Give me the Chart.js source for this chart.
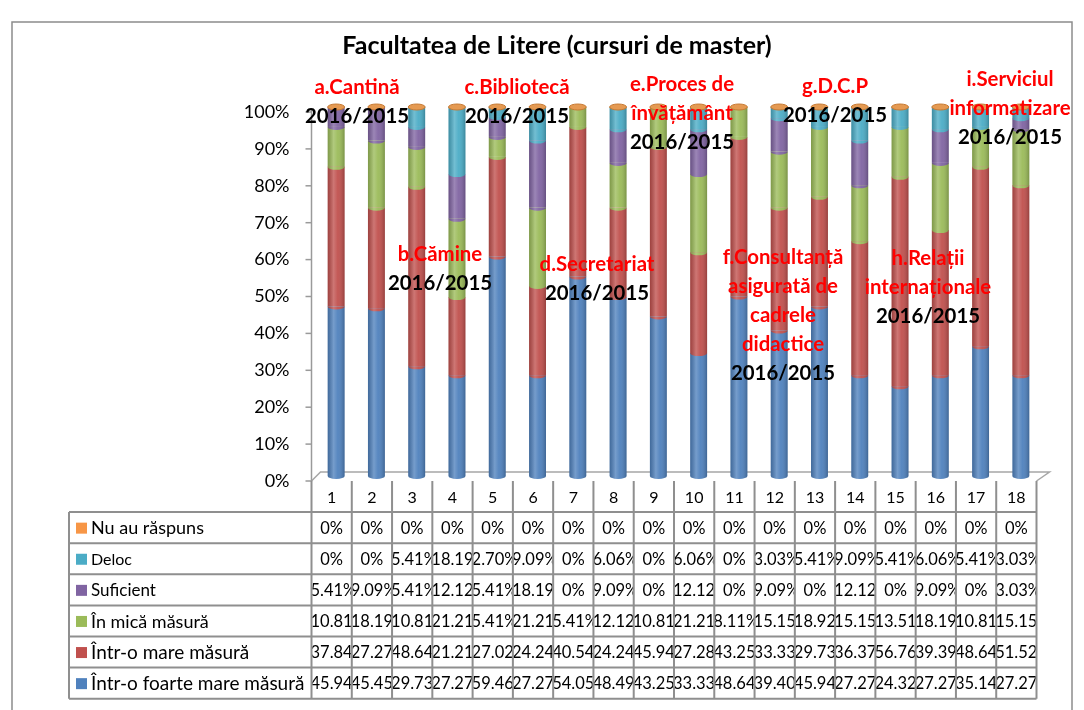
<!DOCTYPE html>
<html>
<head>
<meta charset="utf-8">
<script src="https://cdn.jsdelivr.net/npm/chart.js@4.4.1/dist/chart.umd.min.js"></script>
<style>
  html, body { margin: 0; padding: 0; background: #fff; }
  canvas { display: block; }
</style>
</head>
<body>
<canvas id="chart" width="1084" height="710"></canvas>
<script>
"use strict";

const categories = ["1","2","3","4","5","6","7","8","9","10","11","12","13","14","15","16","17","18"];

const nuAuRaspuns = [0,0,0,0,0,0,0,0,0,0,0,0,0,0,0,0,0,0];
const deloc       = [0,0,5.41,18.19,2.70,9.09,0,6.06,0,6.06,0,3.03,5.41,9.09,5.41,6.06,5.41,3.03];
const suficient   = [5.41,9.09,5.41,12.12,5.41,18.19,0,9.09,0,12.12,0,9.09,0,12.12,0,9.09,0,3.03];
const inMica      = [10.81,18.19,10.81,21.21,5.41,21.21,5.41,12.12,10.81,21.21,8.11,15.15,18.92,15.15,13.51,18.19,10.81,15.15];
const intrMare    = [37.84,27.27,48.64,21.21,27.02,24.24,40.54,24.24,45.94,27.28,43.25,33.33,29.73,36.37,56.76,39.39,48.64,51.52];
const foarteMare  = [45.94,45.45,29.73,27.27,59.46,27.27,54.05,48.49,43.25,33.33,48.64,39.40,45.94,27.27,24.32,27.27,35.14,27.27];

const yTickValues = [0,10,20,30,40,50,60,70,80,90,100];
const yTickLabels = ["0%","10%","20%","30%","40%","50%","60%","70%","80%","90%","100%"];

const title = "Facultatea de Litere (cursuri de master)";

// series, bottom of the stack first
const series = [
  { name: "Într-o foarte mare măsură", data: foarteMare,  color: "#4F81BD" },
  { name: "Într-o mare măsură",        data: intrMare,    color: "#C0504D" },
  { name: "În mică măsură",            data: inMica,      color: "#9BBB59" },
  { name: "Suficient",                 data: suficient,   color: "#8064A2" },
  { name: "Deloc",                     data: deloc,       color: "#4BACC6" },
  { name: "Nu au răspuns",             data: nuAuRaspuns, color: "#F79646" },
];

// red section captions + black year, placed over the plot
const notes = [
  { x: 357,  y: 87,  lines: ["a.Cantină"] },
  { x: 517,  y: 87,  lines: ["c.Bibliotecă"] },
  { x: 682,  y: 84,  lines: ["e.Proces de", "învățământ"] },
  { x: 835,  y: 86,  lines: ["g.D.C.P"] },
  { x: 1010, y: 79,  lines: ["i.Serviciul", "informatizare"] },
  { x: 440,  y: 254, lines: ["b.Cămine"] },
  { x: 597,  y: 264, lines: ["d.Secretariat"] },
  { x: 783,  y: 257, lines: ["f.Consultanță", "asigurată de", "cadrele", "didactice"] },
  { x: 928,  y: 258, lines: ["h.Relații", "internaționale"] },
];
const yearLabel = "2016/2015";

// ── Helpers ───────────────────────────────────────────────
const FONT = "Lato, 'Open Sans', sans-serif";
const DEPTH_X = 4.5, DEPTH_Y = 5;    // 3-D offset of the bars vs axis/table
const fmtCell = (v) => v === 0 ? "0%" : v.toFixed(2) + "%";

// pick a font size so that `text` is about `target` px wide
function fitSize(ctx, text, weight, target) {
  ctx.font = weight + " 20px " + FONT;
  return 20 * target / ctx.measureText(text).width;
}

// ── Decorations plugin ────────────────────────────────────
const frame = {
  id: "frame",
  beforeDraw(chart) {
    const { ctx, chartArea: a } = chart;
    const y = chart.scales.y;
    ctx.save();
    ctx.fillStyle = "#fff";
    ctx.fillRect(0, 0, chart.width, chart.height);

    // outer border
    ctx.strokeStyle = "#8c8c8c";
    ctx.lineWidth = 1.5;
    ctx.strokeRect(12, 22, 1060, 720);

    // title
    ctx.fillStyle = "#000";
    const ts = Math.min(fitSize(ctx, title, "bold", 436), 25);
    ctx.font = "bold " + ts.toFixed(1) + "px " + FONT;
    ctx.textAlign = "center";
    ctx.textBaseline = "middle";
    ctx.fillText(title, 557, 46);

    // floor
    const front = y.getPixelForValue(0) + DEPTH_Y;
    const back  = y.getPixelForValue(0) - 4;
    const fl = a.left - DEPTH_X;
    const fr = a.right - DEPTH_X;
    ctx.strokeStyle = "#a6a6a6";
    ctx.lineWidth = 1.5;
    ctx.beginPath();
    ctx.moveTo(fl, front);
    ctx.lineTo(fl + 9, back);
    ctx.lineTo(fr + 13, back);
    ctx.lineTo(fr, front);
    ctx.stroke();

    // value axis + ticks
    ctx.strokeStyle = "#9a9a9a";
    ctx.beginPath();
    ctx.moveTo(fl, y.getPixelForValue(100) + DEPTH_Y - 2);
    ctx.lineTo(fl, front);
    ctx.stroke();
    ctx.font = "18px " + FONT;
    ctx.textAlign = "right";
    ctx.fillStyle = "#000";
    yTickValues.forEach((v, i) => {
      const py = y.getPixelForValue(v) + DEPTH_Y;
      ctx.beginPath();
      ctx.moveTo(fl - 6, py);
      ctx.lineTo(fl, py);
      ctx.stroke();
      ctx.fillText(yTickLabels[i], fl - 22, py);
    });
    ctx.restore();
  },

  afterDatasetsDraw(chart) {
    const { ctx } = chart;
    const metas = series.map((_, k) => chart.getDatasetMeta(k));
    ctx.save();
    categories.forEach((_, i) => {
      const base = metas[0].data[i];
      const w = base.width, cx = base.x, bottom = base.base;
      const top = metas[metas.length - 1].data[i].y;
      const ry = 3;

      // curved joins between segments
      for (let k = 1; k < series.length; k++) {
        const el = metas[k].data[i];
        if (Math.abs(el.base - el.y) < 0.5) continue;
        ctx.fillStyle = series[k].color;
        ctx.beginPath();
        ctx.ellipse(cx, el.base, w / 2, ry, 0, 0, Math.PI);
        ctx.fill();
      }
      // rounded bottom
      ctx.fillStyle = series[0].color;
      ctx.beginPath();
      ctx.ellipse(cx, bottom, w / 2, ry, 0, 0, Math.PI);
      ctx.fill();

      // cylinder shading
      const g = ctx.createLinearGradient(cx - w / 2, 0, cx + w / 2, 0);
      g.addColorStop(0, "rgba(0,0,0,0.18)");
      g.addColorStop(0.35, "rgba(255,255,255,0.22)");
      g.addColorStop(0.6, "rgba(255,255,255,0.05)");
      g.addColorStop(1, "rgba(0,0,0,0.22)");
      ctx.fillStyle = g;
      ctx.beginPath();
      ctx.rect(cx - w / 2, top, w, bottom - top);
      ctx.ellipse(cx, bottom, w / 2, ry, 0, 0, Math.PI);
      ctx.fill();

      // top cap (the empty "Nu au răspuns" slice)
      ctx.fillStyle = "#E59A52";
      ctx.strokeStyle = "#C77A33";
      ctx.lineWidth = 1;
      ctx.beginPath();
      ctx.ellipse(cx, top, w / 2, ry, 0, 0, Math.PI * 2);
      ctx.fill();
      ctx.stroke();
    });

    // captions
    ctx.textAlign = "center";
    ctx.textBaseline = "middle";
    const ns = Math.min(fitSize(ctx, yearLabel, "bold", 104), 23);
    ctx.font = "bold " + ns.toFixed(1) + "px " + FONT;
    notes.forEach((n) => {
      n.lines.forEach((t, j) => {
        ctx.fillStyle = "#FF0000";
        ctx.fillText(t, n.x, n.y + j * 29);
      });
      ctx.fillStyle = "#000";
      ctx.fillText(yearLabel, n.x, n.y + n.lines.length * 29);
    });
    ctx.restore();
  },

  afterDraw(chart) {
    const { ctx } = chart;
    const x = chart.scales.x;
    const half = (x.getPixelForValue(1) - x.getPixelForValue(0)) / 2;
    const colL = (i) => x.getPixelForValue(i) - DEPTH_X - half;
    const colR = (i) => x.getPixelForValue(i) - DEPTH_X + half;
    const tLeft = 69, tRight = colR(categories.length - 1);
    const headTop = chart.scales.y.getPixelForValue(0) + DEPTH_Y;
    const rowH = 31.1;
    const rowTop = (r) => headTop + rowH * (r + 1);

    // rows top → bottom
    const rows = series.slice().reverse();

    ctx.save();
    ctx.strokeStyle = "#8f8f8f";
    ctx.lineWidth = 2;

    // horizontal lines
    ctx.beginPath();
    for (let r = 0; r <= rows.length; r++) {
      ctx.moveTo(tLeft, rowTop(r));
      ctx.lineTo(tRight, rowTop(r));
    }
    // vertical lines
    ctx.moveTo(tLeft, rowTop(0));
    ctx.lineTo(tLeft, rowTop(rows.length));
    for (let i = 0; i < categories.length; i++) {
      ctx.moveTo(colL(i), headTop);
      ctx.lineTo(colL(i), rowTop(rows.length));
    }
    ctx.moveTo(tRight, headTop);
    ctx.lineTo(tRight, rowTop(rows.length));
    ctx.stroke();

    // header numbers
    ctx.fillStyle = "#000";
    ctx.textBaseline = "middle";
    ctx.textAlign = "center";
    ctx.font = "16px " + FONT;
    categories.forEach((c, i) => {
      ctx.fillText(c, (colL(i) + colR(i)) / 2, headTop + rowH / 2 + 1);
    });

    // legend keys + names
    const nameSizes = [18, 16, 17, 18, 19, 19];
    rows.forEach((s, r) => {
      const cy = rowTop(r) + rowH / 2;
      ctx.fillStyle = s.color;
      ctx.fillRect(76, cy - 5, 11, 11);
      ctx.fillStyle = "#000";
      ctx.textAlign = "left";
      ctx.font = nameSizes[r] + "px " + FONT;
      ctx.fillText(s.name, 91, cy + 1);
    });

    // value cells (clipped like the spreadsheet)
    ctx.font = "16.5px " + FONT;
    rows.forEach((s, r) => {
      const cy = rowTop(r) + rowH / 2 + 1;
      s.data.forEach((v, i) => {
        const l = colL(i), rr = colR(i);
        const txt = fmtCell(v);
        const tw = ctx.measureText(txt).width;
        ctx.save();
        ctx.beginPath();
        ctx.rect(l + 1, rowTop(r), rr - l - 2, rowH);
        ctx.clip();
        ctx.textAlign = "left";
        const tx = Math.max((l + rr) / 2 - tw / 2, l - 1);
        ctx.fillText(txt, tx, cy);
        ctx.restore();
      });
    });
    ctx.restore();
  },
};

// ── Chart ─────────────────────────────────────────────────
new Chart(document.getElementById("chart").getContext("2d"), {
  type: "bar",
  data: {
    labels: categories,
    datasets: series.map((s) => ({
      label: s.name,
      data: s.data,
      backgroundColor: s.color,
      borderWidth: 0,
      barPercentage: 0.42,
      categoryPercentage: 1,
    })),
  },
  options: {
    responsive: false,
    animation: false,
    devicePixelRatio: 1,
    layout: { padding: { left: 316, right: 43, top: 107, bottom: 234 } },
    plugins: {
      legend: { display: false },
      title: { display: false },
      tooltip: { enabled: false },
    },
    scales: {
      x: { stacked: true, display: false },
      y: { stacked: true, display: false, min: 0, max: 100 },
    },
  },
  plugins: [frame],
});
</script>
</body>
</html>
